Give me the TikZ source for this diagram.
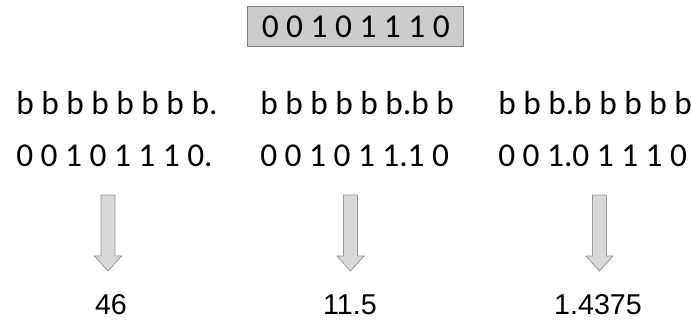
\documentclass[tikz,border=0pt]{standalone}
\usepackage{fontspec}
\setmainfont{Carlito}
\newfontfamily\numfont{Liberation Sans}
\usetikzlibrary{positioning}
\definecolor{boxfill}{HTML}{CCCCCC}
\definecolor{boxline}{HTML}{808080}
\definecolor{arrfill}{HTML}{D9D9D9}
\definecolor{arrline}{HTML}{999999}
\tikzset{
  wordbox/.style={draw=boxline, fill=boxfill, minimum width=162pt, minimum height=30pt, inner sep=0pt, font=\fontsize{25}{29}\selectfont},
  bits/.style={anchor=base west, inner sep=0pt, font=\fontsize{25}{29}\selectfont},
  val/.style={inner sep=0pt, font=\numfont\fontsize{21.5}{25}\selectfont},
  blk/.style={draw=arrline, fill=arrfill, line width=0.6pt},
}
% block arrow pointing down, tail at the named coordinate
\newcommand{\blockdown}[1]{%
  \draw[blk, shift={(#1)}] (-7,0) -- (7,0) -- (7,61) -- (13.5,61) -- (0,76)
    -- (-13.5,61) -- (-7,61) -- cycle;}

\begin{document}
\begin{tikzpicture}[x=0.75pt, y=-0.75pt]
  \useasboundingbox (0,0) rectangle (691,323);
  \node[wordbox] (word) at (355.75,26.5) {0 0 1 0 1 1 1 0};
  \node[bits] (b1) at (16,114.5) {b b b b b b b b.};
  \node[bits] (d1) at (16,167) {0 0 1 0 1 1 1 0.};
  \node[bits] (b2) at (260,114.5) {b b b b b b.b b};
  \node[bits] (d2) at (260,167) {0 0 1 0 1 1.1 0};
  \node[bits] (b3) at (498,114.5) {b b b.b b b b b};
  \node[bits] (d3) at (498,167) {0 0 1.0 1 1 1 0};
  \coordinate (a1) at (108,195);
  \coordinate (a2) at (350.5,195);
  \coordinate (a3) at (599.5,195);
  \blockdown{a1}
  \blockdown{a2}
  \blockdown{a3}
  \node[val] (v1) at (111,305) {46};
  \node[val] (v2) at (350,305) {11.5};
  \node[val] (v3) at (598,305) {1.4375};
\end{tikzpicture}
\end{document}
